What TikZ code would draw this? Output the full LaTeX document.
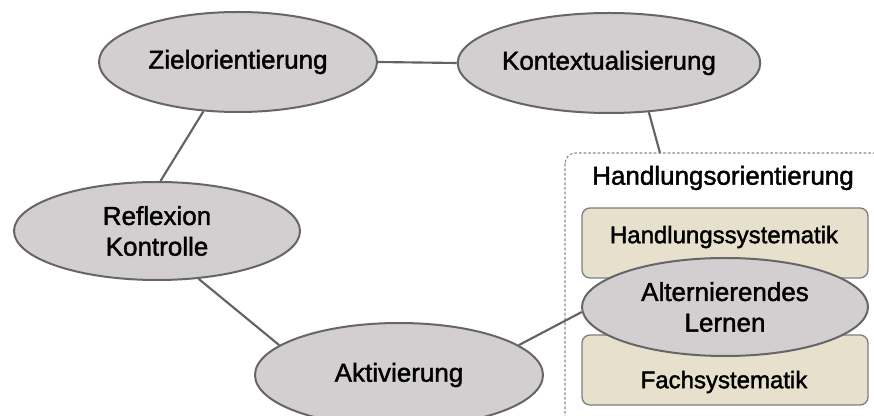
\documentclass[tikz,border=0pt]{standalone}
\usepackage{fontspec}
\setmainfont{Liberation Sans}[FakeBold=1.6]
\usetikzlibrary{shapes.geometric}
\definecolor{ovalfill}{HTML}{D3CFD1}
\definecolor{ovalline}{HTML}{666666}
\definecolor{beige}{HTML}{E6E0CC}
\definecolor{beigeline}{HTML}{7E7E7E}
\definecolor{conn}{HTML}{636363}
\definecolor{dashc}{HTML}{8A8A8A}
\begin{document}
\begin{tikzpicture}[x=0.75pt,y=-0.75pt,
  oval/.style={ellipse, draw=ovalline, fill=ovalfill, line width=1.5pt, inner sep=0pt,
    font=\fontsize{19.5}{23}\selectfont, align=center, text=black},
  beigebox/.style={rectangle, rounded corners=6pt, draw=beigeline, fill=beige, line width=1pt,
    inner sep=0pt, minimum width=214.5pt, minimum height=52.5pt},
  boxtext/.style={inner sep=0pt, font=\fontsize{18}{22}\selectfont, text=black},
  titletext/.style={inner sep=0pt, font=\fontsize{19.5}{23}\selectfont, text=black},
  connector/.style={draw=conn, line width=1.6pt},
  groupframe/.style={draw=dashc, line width=0.8pt, dash pattern=on 2pt off 1.5pt, rounded corners=8pt}
]
\clip (0,0) rectangle (874,416);
\fill[white] (0,0) rectangle (874,416);

% group frame
\draw[groupframe] (565,153) rectangle (900,450);
\node[titletext] (ht) at (723,178) {Handlungsorientierung};

% beige boxes
\node[beigebox] (hs) at (725,243) {};
\node[beigebox] (fs) at (725,370) {};
\node[boxtext] (hst) at (724,237) {Handlungssystematik};
\node[boxtext] (fst) at (724,382) {Fachsystematik};

% ovals
\node[oval, minimum width=208.5pt, minimum height=75pt] (zi) at (238,62) {Zielorientierung};
\node[oval, minimum width=216pt, minimum height=75pt] (ko) at (609,63) {Kontextualisierung};
\node[oval, minimum width=214.5pt, minimum height=73.5pt] (re) at (157,231) {Reflexion\\Kontrolle};
\node[oval, minimum width=216pt, minimum height=78pt] (ak) at (399,375) {Aktivierung};
\node[oval, minimum width=214.5pt, minimum height=73.5pt] (al) at (725,307) {Alternierendes\\Lernen};

\coordinate (kb) at (660,153);

% connectors
\draw[connector] (zi.east) -- (ko.west);
\draw[connector] (zi.-125) -- (re.86);
\draw[connector] (re.-49) -- (ak.166);
\draw[connector] (ak.14) -- (al.182);
\draw[connector] (ko.-51) -- (kb);
\end{tikzpicture}
\end{document}
